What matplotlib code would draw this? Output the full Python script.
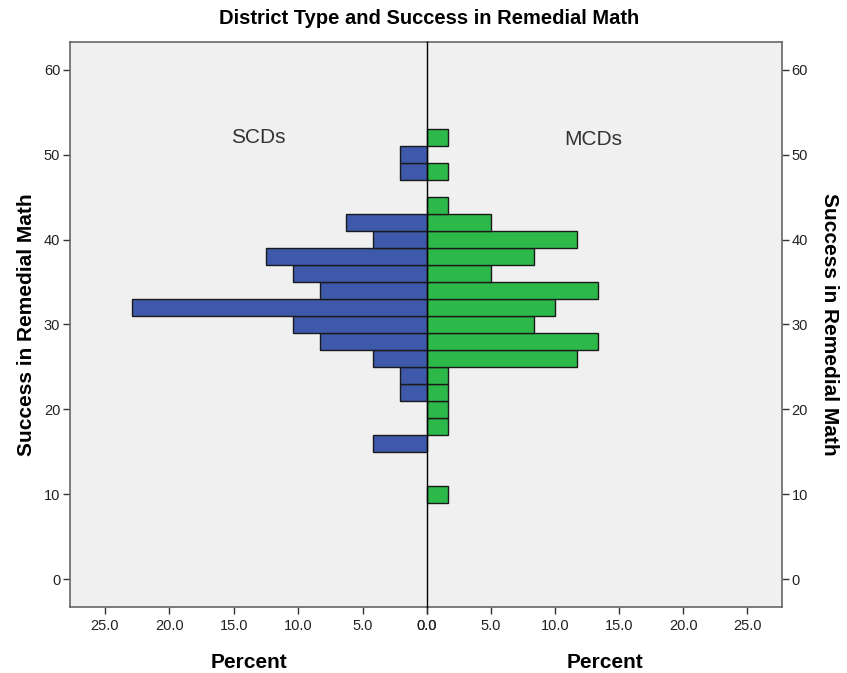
import matplotlib
matplotlib.use("Agg")
import matplotlib.pyplot as plt
import numpy as np

# Bin centres (Success in Remedial Math), bin width 2
bins = [10, 16, 18, 20, 22, 24, 26, 28, 30, 32, 34, 36, 38, 40, 42, 44, 48, 50, 52]
# Percent of SCDs per bin
scd_pct = [0, 4.17, 0, 0, 2.08, 2.08, 4.17, 8.33, 10.42, 22.92, 8.33, 10.42, 12.5, 4.17, 6.25, 0, 2.08, 2.08, 0]
# Percent of MCDs per bin
mcd_pct = [1.67, 0, 1.67, 1.67, 1.67, 1.67, 11.67, 13.33, 8.33, 10.0, 13.33, 5.0, 8.33, 11.67, 5.0, 1.67, 1.67, 0, 1.67]

groups = ["SCDs", "MCDs"]
title = "District Type and Success in Remedial Math"
ylabel = "Success in Remedial Math"
xlabel = "Percent"
xticks = [0, 5, 10, 15, 20, 25]
yticks = [0, 10, 20, 30, 40, 50, 60]

W, H = 847, 673
fig = plt.figure(figsize=(W / 100, H / 100), dpi=100)
fig.patch.set_facecolor("white")

narrow = ["Liberation Sans Narrow", "Liberation Sans", "DejaVu Sans"]
bold = ["Liberation Sans", "DejaVu Sans"]

bottom = (H - 607) / H
height = 565 / H
axL = fig.add_axes([70 / W, bottom, 357 / W, height])
axR = fig.add_axes([427 / W, bottom, 355 / W, height], sharey=axL)

blue = "#3E58AA"
green = "#2DB84A"
xmax = 27.7
for ax, vals, col in [(axL, scd_pct, blue), (axR, mcd_pct, green)]:
    ax.set_facecolor("#F0F0F0")
    ax.barh(bins, vals, height=2, color=col, edgecolor="#1a1a1a", linewidth=1.0, zorder=3)
    ax.set_ylim(-3.3, 63.3)
    ax.set_yticks(yticks)
    ax.set_xticks(xticks)
    ax.set_xticklabels([f"{t:.1f}" for t in xticks], fontfamily=narrow, fontsize=10.5, color="#222222")
    ax.tick_params(axis="x", length=5, width=1, color="#333333", pad=4)
    ax.tick_params(axis="y", length=5, width=1, color="#333333", labelsize=10.5, labelcolor="#222222", pad=2)
    for lab in ax.get_yticklabels():
        lab.set_fontfamily(narrow)
    for s in ax.spines.values():
        s.set_color("#666666")
        s.set_linewidth(1.2)
    ax.set_xlabel(xlabel, fontsize=15, fontweight="bold", fontfamily=bold, labelpad=14)

axL.set_xlim(xmax, 0)
axR.set_xlim(0, xmax)
axL.spines["right"].set_visible(False)
axR.spines["left"].set_visible(False)
axR.axvline(0, color="black", linewidth=1.0, zorder=6, clip_on=False)
axR.yaxis.tick_right()
axR.yaxis.set_label_position("right")
axR.tick_params(axis="y", labelleft=False, labelright=True, left=False, right=True)
for lab in axR.get_yticklabels():
    lab.set_fontfamily(narrow)
    lab.set_visible(True)

axL.set_ylabel(ylabel, fontsize=15, fontweight="bold", fontfamily=bold, labelpad=6)
axR.set_ylabel(ylabel, fontsize=15, fontweight="bold", fontfamily=bold, rotation=270, labelpad=22)

axL.text(13.1, 52.0, groups[0], fontsize=15, color="#333333", ha="center", va="center", fontfamily=bold)
axR.text(13.0, 51.8, groups[1], fontsize=15, color="#333333", ha="center", va="center", fontfamily=bold)

fig.text(429 / W, 1 - 18 / H, title, fontsize=14.5, fontweight="bold", ha="center", va="center",
         fontfamily=narrow)

fig.savefig("out.png", dpi=100)
